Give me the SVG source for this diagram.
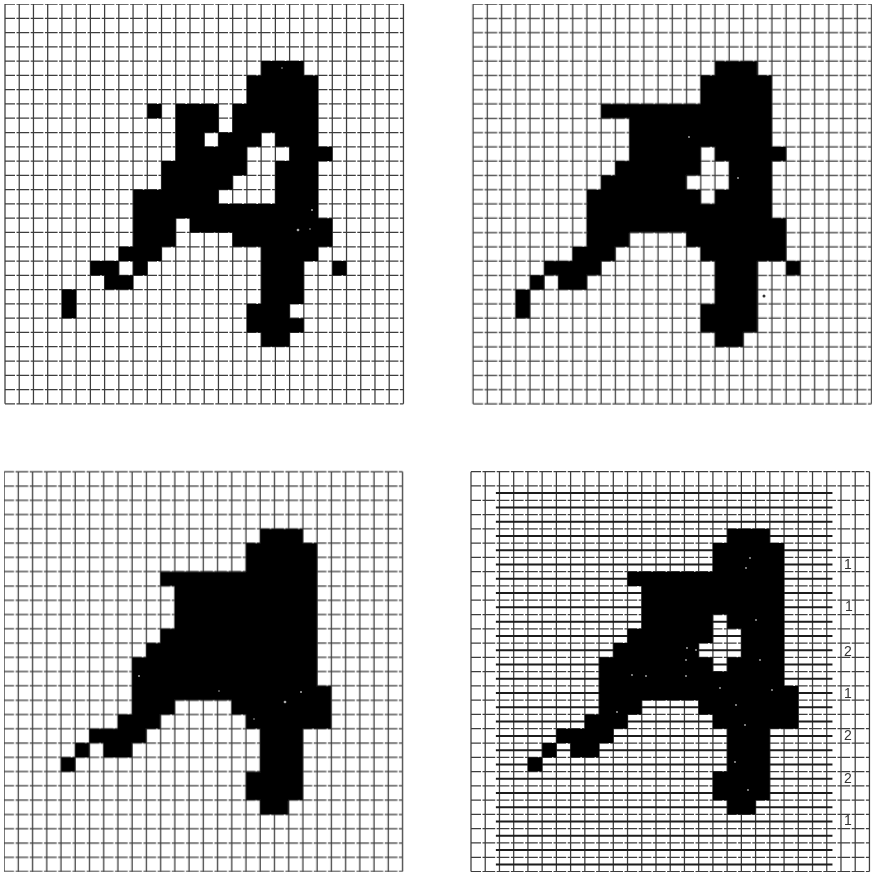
<svg xmlns="http://www.w3.org/2000/svg" width="872" height="875" viewBox="0 0 872 875">
<style>
.gv{fill:none;stroke:#3c3c3c;stroke-width:1.25;vector-effect:non-scaling-stroke}
.gh{fill:none;stroke:#3c3c3c;stroke-width:1.25;stroke-dasharray:10 1.5 2.7 0;vector-effect:non-scaling-stroke}
.h{fill:none;stroke:#1a1a1a;stroke-width:2;vector-effect:non-scaling-stroke}
.s{fill:#060606}
.w{fill:#aaa}
.n{font-family:"Liberation Sans",Arial,sans-serif;font-size:14px;fill:#333;text-anchor:middle}
</style>
<defs>
<filter id="soft" x="0" y="0" width="100%" height="100%"><feGaussianBlur stdDeviation="0.5"/></filter>
<g id="grid">
<path class="gv" d="M0 0V28M1 0V28M2 0V28M3 0V28M4 0V28M5 0V28M6 0V28M7 0V28M8 0V28M9 0V28M10 0V28M11 0V28M12 0V28M13 0V28M14 0V28M15 0V28M16 0V28M17 0V28M18 0V28M19 0V28M20 0V28M21 0V28M22 0V28M23 0V28M24 0V28M25 0V28M26 0V28M27 0V28M28 0V28"/>
<path class="gh" d="M0 0H28M0 1H28M0 2H28M0 3H28M0 4H28M0 5H28M0 6H28M0 7H28M0 8H28M0 9H28M0 10H28M0 11H28M0 12H28M0 13H28M0 14H28M0 15H28M0 16H28M0 17H28M0 18H28M0 19H28M0 20H28M0 21H28M0 22H28M0 23H28M0 24H28M0 25H28M0 26H28M0 27H28M0 28H28"/>
</g>
</defs>
<rect width="872" height="875" fill="#fff"/>
<g filter="url(#soft)">
<g id="panel-1" transform="translate(5 4) scale(14.23 14.28)">
<use href="#grid"/>
<path class="s" d="M18 4h3v1h-3zM17 5h5v2h-5zM10 7h1v1h-1zM12 7h3v2h-3zM16 7h6v2h-6zM12 9h2v1h-2zM15 9h3v1h-3zM19 9h3v1h-3zM12 10h5v1h-5zM20 10h3v1h-3zM11 11h6v1h-6zM19 11h3v1h-3zM11 12h5v1h-5zM19 12h3v1h-3zM9 13h6v1h-6zM19 13h3v1h-3zM9 14h13v1H9zM9 15h3v1H9zM13 15h10v1H13zM9 16h3v1H9zM16 16h7v1H16zM8 17h3v1H8zM18 17h4v1H18zM6 18h2v1H6zM9 18h1v1H9zM18 18h3v1H18zM23 18h1v1H23zM7 19h2v1H7zM18 19h3v1H18zM4 20h1v2H4zM18 20h3v1H18zM17 21h3v1H17zM17 22h4v1H17zM18 23h2v1H18z"/>
</g>
<g id="panel-2" transform="translate(473 4) scale(14.23 14.28)">
<use href="#grid"/>
<path class="s" d="M17 4h3v1h-3zM16 5h5v2h-5zM9 7h12v1H9zM11 8h10v2H11zM11 10h5v1h-5zM17 10h5v1h-5zM10 11h6v1h-6zM18 11h3v1h-3zM9 12h6v1H9zM18 12h3v1h-3zM8 13h8v1H8zM17 13h4v1h-4zM8 14h13v1H8zM8 15h14v1H8zM8 16h3v1H8zM15 16h7v1h-7zM7 17h3v1H7zM16 17h6v1h-6zM5 18h4v1H5zM17 18h3v1h-3zM22 18h1v1h-1zM4 19h1v1H4zM6 19h2v1H6zM17 19h3v1h-3zM3 20h1v2H3zM17 20h3v1h-3zM16 21h4v2h-4zM17 23h2v1h-2z"/>
</g>
<g id="panel-3" transform="translate(4 471.7) scale(14.23 14.28)">
<use href="#grid"/>
<path class="s" d="M18 4h3v1h-3zM17 5h5v2h-5zM11 7h11v1H11zM12 8h10v3H12zM11 11h11v1H11zM10 12h12v1H10zM9 13h13v2H9zM9 15h14v1H9zM9 16h3v1H9zM16 16h7v1h-7zM8 17h3v1H8zM17 17h6v1h-6zM6 18h4v1H6zM18 18h3v1h-3zM5 19h1v1H5zM7 19h2v1H7zM18 19h3v1h-3zM4 20h1v1H4zM18 20h3v1h-3zM17 21h4v2h-4zM18 23h2v1h-2z"/>
</g>
<g id="panel-4" transform="translate(471 471.7) scale(14.23 14.28)">
<use href="#grid"/>
<path class="h" d="M1.75 1.5H25.4M1.75 2.5H25.4M1.75 3.5H25.4M1.75 4.5H25.4M1.75 5.5H25.4M1.75 6.5H25.4M1.75 7.5H25.4M1.75 8.5H25.4M1.75 9.5H25.4M1.75 10.5H25.4M1.75 11.5H25.4M1.75 12.5H25.4M1.75 13.5H25.4M1.75 14.5H25.4M1.75 15.5H25.4M1.75 16.5H25.4M1.75 17.5H25.4M1.75 18.5H25.4M1.75 19.5H25.4M1.75 20.5H25.4M1.75 21.5H25.4M1.75 22.5H25.4M1.75 23.5H25.4M1.75 24.5H25.4M1.75 25.5H25.4M1.75 26.5H25.4M1.75 27.5H25.4"/>
<path class="s" d="M18 4h3v1h-3zM17 5h5v2h-5zM11 7h11v1H11zM12 8h10v2H12zM12 10h5v1h-5zM18 10h4v1h-4zM11 11h6v1h-6zM19 11h3v1h-3zM10 12h6v1h-6zM19 12h3v1h-3zM9 13h8v1H9zM18 13h4v1h-4zM9 14h13v1H9zM9 15h14v1H9zM9 16h3v1H9zM16 16h7v1h-7zM8 17h3v1H8zM17 17h6v1h-6zM6 18h4v1H6zM18 18h3v1h-3zM5 19h1v1H5zM7 19h2v1H7zM18 19h3v1h-3zM4 20h1v1H4zM18 20h3v1h-3zM17 21h4v2h-4zM18 23h2v1h-2z"/>
</g>
<g id="specks">
<circle class="w" cx="298" cy="230" r="1.3"/><circle class="w" cx="312" cy="210" r="1"/><circle class="w" cx="310" cy="229" r="0.8"/><circle class="w" cx="282" cy="68" r="0.8"/>
<circle class="w" cx="139" cy="676" r="1"/><circle class="w" cx="285" cy="702" r="1.3"/><circle class="w" cx="301" cy="692" r="1"/><circle class="w" cx="254" cy="719" r="0.8"/><circle class="w" cx="219" cy="691" r="0.8"/>
<circle class="w" cx="689" cy="137" r="0.9"/><circle class="w" cx="738" cy="178" r="0.9"/>
<circle cx="764" cy="296" r="1.5" fill="#333"/>
<circle class="w" cx="750" cy="558" r="0.9"/><circle class="w" cx="746" cy="568" r="0.9"/><circle class="w" cx="756" cy="620" r="0.9"/><circle class="w" cx="696" cy="650" r="0.9"/><circle class="w" cx="686" cy="676" r="0.9"/><circle class="w" cx="687" cy="648" r="0.9"/><circle class="w" cx="686" cy="660" r="0.9"/><circle class="w" cx="646" cy="676" r="0.9"/><circle class="w" cx="632" cy="675" r="0.9"/><circle class="w" cx="720" cy="688" r="0.9"/><circle class="w" cx="736" cy="705" r="0.9"/><circle class="w" cx="745" cy="725" r="0.9"/><circle class="w" cx="735" cy="762" r="0.9"/><circle class="w" cx="748" cy="790" r="0.9"/><circle class="w" cx="760" cy="660" r="0.9"/><circle class="w" cx="772" cy="690" r="0.9"/><circle class="w" cx="617" cy="712" r="0.9"/>
</g>
</g>
<g id="labels">
<text class="n" x="848" y="569">1</text>
<text class="n" x="849" y="611">1</text>
<text class="n" x="848" y="656">2</text>
<text class="n" x="848" y="698">1</text>
<text class="n" x="848" y="740">2</text>
<text class="n" x="848" y="783">2</text>
<text class="n" x="848" y="825">1</text>
</g>
</svg>
